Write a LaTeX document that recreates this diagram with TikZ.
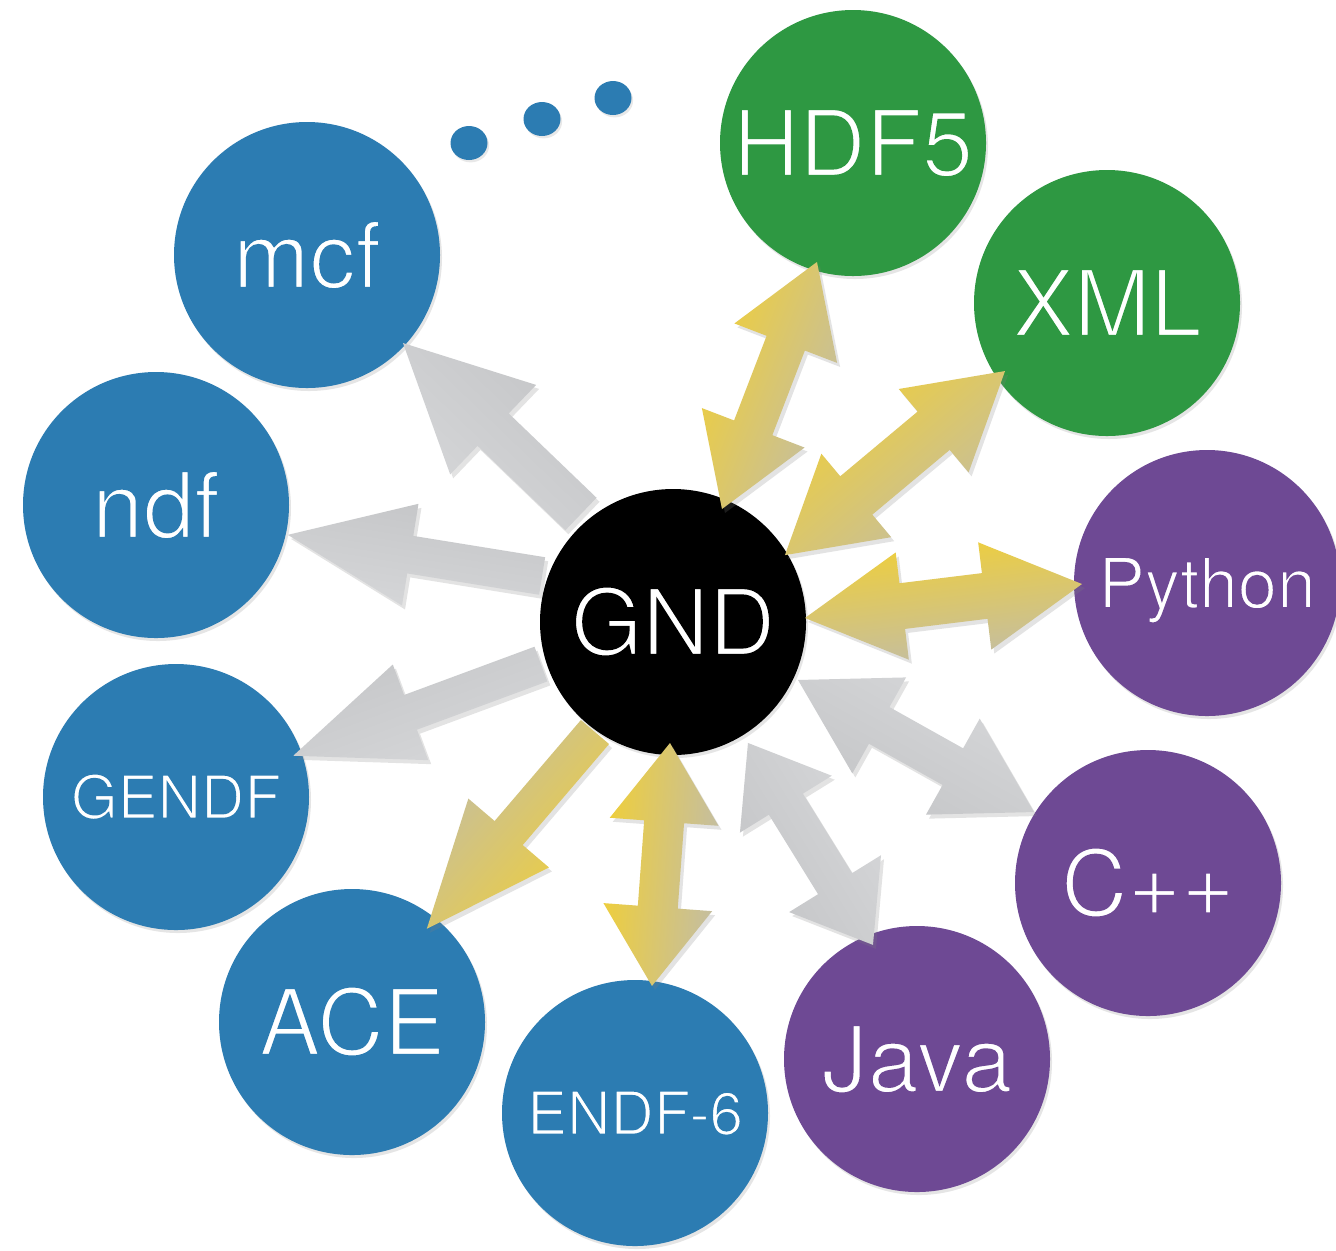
\documentclass[tikz,border=0pt]{standalone}
\usepackage{fontspec}
\setmainfont{TeX Gyre Heros}
\usetikzlibrary{calc,shadows,shapes.geometric}
\definecolor{cblue}{RGB}{44,124,178}
\definecolor{cgreen}{RGB}{46,152,66}
\definecolor{cpurple}{RGB}{110,73,148}
\definecolor{yelA}{RGB}{240,207,56}
\definecolor{yelB}{RGB}{194,189,166}
\definecolor{gryA}{RGB}{214,215,217}
\definecolor{gryB}{RGB}{196,197,199}
% thin the glyphs: fill + stroke in the bubble colour (#1 = rgb triple, #2 = line width in bp)
\newcommand\lighttext[3]{\special{pdf:literal direct #2 w #1 RG 2 Tr}#3\special{pdf:literal direct 0 Tr}}
\def\rgbblue{0.1725 0.4863 0.698}
\def\rgbgreen{0.1804 0.5961 0.2588}
\def\rgbpurple{0.4314 0.2863 0.5804}
\def\rgbblack{0 0 0}
\tikzset{
  bubble/.style={circle, minimum size=133pt, inner sep=0pt, text=white,
    drop shadow={shadow xshift=1pt, shadow yshift=-1.5pt, opacity=0.2}},
  bigtext/.style={font=\fontsize{46}{46}\selectfont, text height=33pt, text depth=0pt},
  midtext/.style={font=\fontsize{35}{35}\selectfont, text height=25.1pt, text depth=0pt},
  smalltext/.style={font=\fontsize{30}{30}\selectfont, text height=21.5pt, text depth=0pt},
  dotnode/.style={ellipse, fill=cblue, minimum width=18.5pt, minimum height=17pt, inner sep=0pt,
    drop shadow={shadow xshift=0.8pt, shadow yshift=-1.2pt, opacity=0.18}},
  arrowshadow/.style={drop shadow={shadow xshift=1.5pt, shadow yshift=-2pt, opacity=0.22}},
  yarrow/.style={top color=yelA, bottom color=yelB, arrowshadow},
  garrow/.style={top color=gryA, bottom color=gryB, arrowshadow},
}
% single fat arrow: #1 style, #2 tail, #3 tip, #4 shaft half width, #5 head half width, #6 head length
\newcommand\fatS[6]{%
  \pgfmathanglebetweenpoints{\pgfpointanchor{#2}{center}}{\pgfpointanchor{#3}{center}}%
  \edef\fatang{\pgfmathresult}%
  \coordinate (hb) at ($(#3)!#6!(#2)$);
  \path[#1, shading angle=\fatang]
    ($(#2)!#4!90:(#3)$) -- ($(hb)!#4!90:(#3)$) -- ($(hb)!#5!90:(#3)$) -- (#3)
    -- ($(hb)!#5!-90:(#3)$) -- ($(hb)!#4!-90:(#3)$) -- ($(#2)!#4!-90:(#3)$) -- cycle;
}
% double fat arrow: #1 style, #2 end A, #3 end B, #4 shaft half width, #5 head half width, #6 head length
\newcommand\fatD[6]{%
  \pgfmathanglebetweenpoints{\pgfpointanchor{#2}{center}}{\pgfpointanchor{#3}{center}}%
  \edef\fatang{\pgfmathresult}%
  \coordinate (hA) at ($(#2)!#6!(#3)$);
  \coordinate (hB) at ($(#3)!#6!(#2)$);
  \path[#1, shading angle=\fatang]
    (#2) -- ($(hA)!#5!90:(#3)$) -- ($(hA)!#4!90:(#3)$) -- ($(hB)!#4!90:(#3)$)
    -- ($(hB)!#5!90:(#3)$) -- (#3) -- ($(hB)!#5!-90:(#3)$) -- ($(hB)!#4!-90:(#3)$)
    -- ($(hA)!#4!-90:(#3)$) -- ($(hA)!#5!-90:(#3)$) -- cycle;
}
\begin{document}
\begin{tikzpicture}[x=0.5pt,y=-0.5pt]
\useasboundingbox (0,0) rectangle (1336,1250);
\fill[white] (0,0) rectangle (1336,1250);
% bubbles
\node[bubble, fill=black, bigtext] (gnd) at (673,622) {\lighttext{\rgbblack}{1.2}{GND}};
\node[bubble, fill=cgreen, bigtext] (hdf) at (853,143) {\lighttext{\rgbgreen}{1.2}{HDF5}};
\node[bubble, fill=cgreen, bigtext] (xml) at (1107,303) {\lighttext{\rgbgreen}{1.2}{XML}};
\node[bubble, fill=cpurple, midtext] (py) at (1207,583) {\lighttext{\rgbpurple}{0.9}{Python}};
\node[bubble, fill=cpurple, bigtext] (cpp) at (1148,883) {\lighttext{\rgbpurple}{1.2}{C++}};
\node[bubble, fill=cpurple, bigtext] (java) at (917,1059) {\lighttext{\rgbpurple}{1.2}{Java}};
\node[bubble, fill=cblue, smalltext] (endf) at (635,1113) {\lighttext{\rgbblue}{0.8}{ENDF-6}};
\node[bubble, fill=cblue, bigtext] (ace) at (352,1022) {\lighttext{\rgbblue}{1.2}{ACE}};
\node[bubble, fill=cblue, smalltext] (gendf) at (176,797) {\lighttext{\rgbblue}{0.8}{GENDF}};
\node[bubble, fill=cblue, bigtext] (ndf) at (156,505) {\lighttext{\rgbblue}{1.2}{ndf}};
\node[bubble, fill=cblue, bigtext] (mcf) at (307,255) {\lighttext{\rgbblue}{1.2}{mcf}};
% dots
\node[dotnode] (dot1) at (469,143) {};
\node[dotnode] (dot2) at (542,119) {};
\node[dotnode] (dot3) at (613,98) {};
% arrow ends
\coordinate (m1) at ($(gnd)!0.273!(mcf)!5.55pt!-90:(mcf)$);
\coordinate (m2) at ($(gnd)!0.749!(mcf)!2.9pt!-90:(mcf)$);
\coordinate (n1) at ($(gnd)!0.260!(ndf)!8pt!-90:(ndf)$);
\coordinate (n2) at ($(gnd)!0.745!(ndf)$);
\coordinate (g1) at ($(gnd)!0.263!(gendf)!2.1pt!-90:(gendf)$);
\coordinate (g2) at ($(gnd)!0.764!(gendf)$);
\coordinate (a1) at ($(gnd)!0.2625!(ace)!4pt!90:(ace)$);
\coordinate (a2) at ($(gnd)!0.767!(ace)$);
\coordinate (e1) at ($(gnd)!0.2454!(endf)!3.15pt!90:(endf)$);
\coordinate (e2) at ($(gnd)!0.740!(endf)!3.55pt!90:(endf)$);
\coordinate (j1) at ($(gnd)!0.284!(java)!3.25pt!90:(java)$);
\coordinate (j2) at ($(gnd)!0.758!(java)!8.6pt!90:(java)$);
\coordinate (c1) at ($(gnd)!0.2537!(cpp)!4.7pt!90:(cpp)$);
\coordinate (c2) at ($(gnd)!0.7526!(cpp)!3.65pt!90:(cpp)$);
\coordinate (p1) at ($(gnd)!0.2464!(py)!2.8pt!-90:(py)$);
\coordinate (p2) at ($(gnd)!0.767!(py)!4.05pt!90:(py)$);
\coordinate (x1) at ($(gnd)!0.241!(xml)!6.2pt!-90:(xml)$);
\coordinate (x2) at ($(gnd)!0.7726!(xml)!2.8pt!90:(xml)$);
\coordinate (h1) at ($(gnd)!0.2404!(hdf)!3.05pt!-90:(hdf)$);
\coordinate (h2) at ($(gnd)!0.7576!(hdf)!4.05pt!-90:(hdf)$);
% arrows
\fatS{garrow}{m1}{m2}{11.25pt}{31pt}{62.5pt}
\fatS{garrow}{n1}{n2}{9.5pt}{25.75pt}{62pt}
\fatS{garrow}{g1}{g2}{9.25pt}{25.5pt}{62.5pt}
\fatS{yarrow}{a1}{a2}{9.25pt}{26.5pt}{63pt}
\fatD{yarrow}{e2}{e1}{10pt}{27.25pt}{39.5pt}
\fatD{garrow}{j1}{j2}{10pt}{27pt}{36pt}
\fatD{garrow}{c1}{c2}{10.5pt}{27.5pt}{46.5pt}
\fatD{yarrow}{p1}{p2}{11.5pt}{27pt}{49pt}
\fatD{yarrow}{x1}{x2}{12.5pt}{27.2pt}{46.5pt}
\fatD{yarrow}{h1}{h2}{10.25pt}{27.5pt}{43.5pt}
\end{tikzpicture}
\end{document}
